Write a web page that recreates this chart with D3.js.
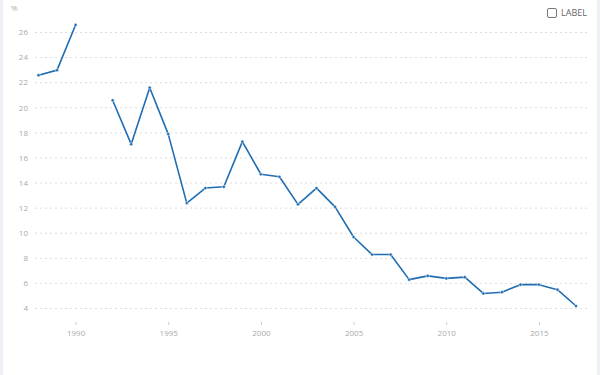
<!DOCTYPE html>
<html><head><meta charset="utf-8">
<script src="https://cdn.jsdelivr.net/npm/d3@7"></script>
<style>
html,body{margin:0;padding:0;background:#fff;}
svg{display:block;font-family:"Open Sans",sans-serif;}
</style></head>
<body>
<svg id="c" width="600" height="375"></svg>
<script>
const years = [1988,1989,1990,1991,1992,1993,1994,1995,1996,1997,1998,1999,2000,2001,2002,2003,2004,2005,2006,2007,2008,2009,2010,2011,2012,2013,2014,2015,2016,2017];
const values = [22.6,23.0,26.6,null,20.6,17.1,21.6,17.9,12.4,13.6,13.7,17.3,14.7,14.5,12.3,13.6,12.1,9.7,8.3,8.3,6.3,6.6,6.4,6.5,5.2,5.3,5.9,5.9,5.5,4.2];
const yTicks = [4,6,8,10,12,14,16,18,20,22,24,26];
const xTicks = [1990,1995,2000,2005,2010,2015];
const unitLabel = "%";
const legendLabel = "LABEL";

const svg = d3.select("#c");
// frame strips
svg.append("rect").attr("x",0).attr("y",0).attr("width",3).attr("height",375).attr("fill","#eef0f5");
svg.append("rect").attr("x",597).attr("y",0).attr("width",3).attr("height",375).attr("fill","#eef0f5");

const x = d3.scaleLinear().domain([1988,2017]).range([38.5,576]);
const y = d3.scaleLinear().domain([4,26]).range([308.5,32.5]);

// grid
const g = svg.append("g");
g.selectAll("line.grid").data(yTicks).join("line")
  .attr("x1",35).attr("x2",590)
  .attr("y1",d=>y(d)).attr("y2",d=>y(d))
  .attr("stroke","#dcdcdc").attr("stroke-width",1).attr("stroke-dasharray","2,3");
g.selectAll("text.yl").data(yTicks).join("text")
  .attr("x",28).attr("y",d=>y(d)).attr("dy","0.35em")
  .attr("text-anchor","end").attr("font-size",8).attr("fill","#aaa").text(d=>d);

svg.append("text").attr("x",11).attr("y",11).attr("font-size",8).attr("fill","#aaa").text(unitLabel);

// x axis
const xa = svg.append("g").attr("transform","translate(0,322)")
  .call(d3.axisBottom(x).tickValues(xTicks).tickFormat(d3.format("d")).tickSize(3).tickPadding(5));
xa.select(".domain").remove();
xa.selectAll("line").attr("stroke","#ccc");
xa.selectAll("text").attr("fill","#aaa").attr("font-size",8).attr("font-family","Open Sans, sans-serif");

const data = years.map((yr,i)=>({yr, v:values[i]}));
const line = d3.line().defined(d=>d.v!=null).x(d=>x(d.yr)).y(d=>y(d.v));
svg.append("path").datum(data).attr("d",line)
  .attr("fill","none").attr("stroke","#1f6db2").attr("stroke-width",1.6).attr("stroke-linejoin","round");
svg.selectAll("circle.pt").data(data.filter(d=>d.v!=null)).join("circle")
  .attr("cx",d=>x(d.yr)).attr("cy",d=>y(d.v)).attr("r",1.6)
  .attr("fill","#1f6db2").attr("stroke","#fff").attr("stroke-width",0.5);

// legend
svg.append("rect").attr("x",547.5).attr("y",8.5).attr("width",9).attr("height",9).attr("rx",1.5)
  .attr("fill","#fff").attr("stroke","#777").attr("stroke-width",1);
svg.append("text").attr("x",561).attr("y",13).attr("dy","0.35em").attr("font-size",9).attr("fill","#666").text(legendLabel);
</script>
</body></html>
